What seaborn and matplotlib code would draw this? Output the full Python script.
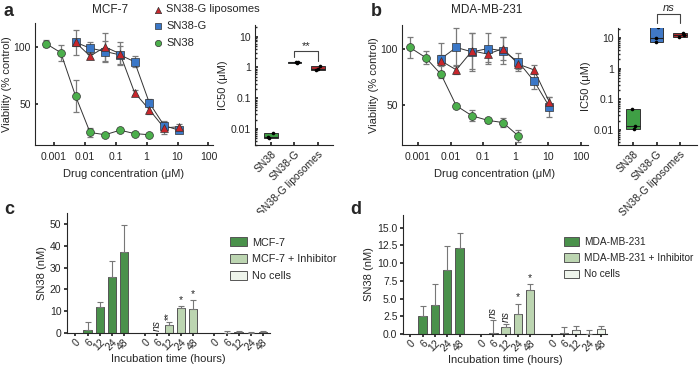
import numpy as np
import pandas as pd
import seaborn as sns
import matplotlib.pyplot as plt
from matplotlib.ticker import NullLocator

sns.set_theme(style="ticks")
plt.rcParams['font.family'] = ['Liberation Sans', 'DejaVu Sans']
plt.rcParams['font.size'] = 7
plt.rcParams['axes.linewidth'] = 0.8

# ---- panel a / b : viability curves ----
conc_sn38 = [0.00056, 0.0017, 0.0051, 0.015, 0.046, 0.14, 0.41, 1.23]
conc_g = [0.0051, 0.015, 0.046, 0.14, 0.41, 1.23, 3.7, 11.1]

mcf_sn38 = [103, 95, 57, 25, 23, 27, 24, 23]
mcf_sn38_err = [3, 7, 14, 4, 1, 2, 1, 1]
mcf_g = [104, 99, 96, 93, 87, 51, 31, 27]
mcf_g_err = [3, 5, 9, 8, 5, 3, 4, 2]
mcf_lip = [104, 92, 100, 94, 60, 45, 29, 30]
mcf_lip_err = [11, 3, 12, 10, 2, 4, 5, 2]

mda_sn38 = [101, 92, 77, 49, 40, 36, 34, 22]
mda_sn38_err = [9, 6, 3, 2, 5, 2, 4, 5]
mda_g = [91, 101, 97, 100, 98, 88, 71, 48]
mda_g_err = [14, 17, 17, 14, 12, 8, 7, 9]
mda_lip = [89, 81, 98, 95, 100, 86, 81, 52]
mda_lip_err = [5, 4, 16, 7, 10, 4, 4, 5]

# ---- IC50 (uM) ----
ic50_cats = ['SN38', 'SN38-G', 'SN38-G liposomes']
mcf_ic50_sn38 = [0.0075, 0.0055, 0.005]
mcf_ic50_g = [1.4, 1.5, 1.52]
mcf_ic50_lip = [1.1, 0.92, 0.8]
mda_ic50_sn38 = [0.048, 0.013, 0.011]
mda_ic50_g = [22, 10, 7.5]
mda_ic50_lip = [14, 12, 10.5]

# ---- panel c / d : SN38 release ----
times = ['0', '6', '12', '24', '48']
c_groups = ['MCF-7', 'MCF-7 + Inhibitor', 'No cells']
c_mean = [[0, 1.5, 11.8, 25.7, 37.2], [0, 0, 3.5, 11.5, 11.2], [0, 0.1, 0.4, 0.1, 0.5]]
c_err = [[0, 3.5, 2.2, 7.3, 12.5], [0, 0, 1.7, 0.8, 3.8], [0, 0.7, 0.4, 0.3, 0.4]]
d_groups = ['MDA-MB-231', 'MDA-MB-231 + Inhibitor', 'No cells']
d_mean = [[0, 2.5, 4.1, 9.0, 12.1], [0, 0.1, 1.0, 2.8, 6.2], [0, 0.1, 0.6, 0.0, 0.7]]
d_err = [[0, 1.4, 3.0, 3.4, 2.1], [0, 1.9, 0.4, 1.5, 0.8], [0, 0.9, 0.6, 0.6, 0.5]]

RED, BLUE, GREEN = '#c8262c', '#3a77c7', '#4caf4c'
BOX_COLORS = ['#3f9f45', '#4078c6', '#b02a2e']
BAR_COLORS = ['#3e9d40', '#b9dbab', '#eef6e9']
GAP = 5.75

W, H = 700, 369
fig = plt.figure(figsize=(W / 100, H / 100), dpi=100)


def frac(l, t, r, b):
    return [l / W, 1 - b / H, (r - l) / W, (b - t) / H]


def viability(ax, sets):
    for name, conc, mean, err, marker, color in sets:
        ax.errorbar(conc, mean, yerr=err, fmt='none', ecolor='#7a7a7a', elinewidth=0.9,
                    capsize=2.5, capthick=0.9, zorder=1)
        sns.lineplot(x=conc, y=mean, color='#333333', lw=0.7, ax=ax, zorder=2)
        sns.scatterplot(x=conc, y=mean, marker=marker, color=color, edgecolor='#333333',
                        s=32, linewidth=0.5, ax=ax, zorder=3, label=name)
    ax.set_xscale('log')
    ax.set_xlim(2.5e-4, 140)
    ax.set_ylim(14, 121)
    ax.set_xticks([1e-3, 1e-2, 0.1, 1, 10, 100])
    ax.set_xticklabels(['0.001', '0.01', '0.1', '1', '10', '100'])
    ax.xaxis.set_minor_locator(NullLocator())
    ax.set_yticks([50, 100])
    ax.set_xlabel('Drug concentration (\u03bcM)', fontsize=8, labelpad=5)
    ax.set_ylabel('Viability (% control)', fontsize=8, labelpad=1)
    ax.tick_params(direction='in', length=2, labelsize=7.5, pad=3)
    ax.tick_params(axis='x', pad=5)
    sns.despine(ax=ax)


def ic50(ax, groups, ylim):
    stats = [dict(med=np.median(v), q1=min(v), q3=max(v), whislo=min(v), whishi=max(v),
                  fliers=[]) for v in groups]
    bp = ax.bxp(stats, positions=[0, 1, 2], widths=0.58, showcaps=False, patch_artist=True,
                medianprops=dict(color='#222222', lw=0.8),
                whiskerprops=dict(lw=0), boxprops=dict(lw=0.7, edgecolor='#333333'))
    for patch, c in zip(bp['boxes'], BOX_COLORS):
        patch.set_facecolor(c)
    df = pd.DataFrame({'cat': np.repeat([0, 1, 2], 3), 'val': np.concatenate(groups)})
    ax.set_yscale('log')
    sns.stripplot(data=df, x='cat', y='val', native_scale=True, color='black', size=2.6,
                  jitter=0.15, ax=ax, zorder=4)
    ax.set_ylim(*ylim)
    ax.set_xlim(-0.68, 2.65)
    ax.set_xticks([0, 1, 2])
    ax.set_xticklabels(ic50_cats, rotation=45, ha='right', rotation_mode='anchor', fontsize=7.5)
    ax.set_yticks([0.01, 0.1, 1, 10])
    ax.set_yticklabels(['0.01', '0.1', '1', '10'])
    ax.set_xlabel('')
    ax.set_ylabel('IC50 (\u03bcM)', fontsize=8, labelpad=2)
    ax.tick_params(direction='in', length=2, labelsize=7.5, pad=3)
    ax.tick_params(which='minor', direction='in', length=1.2)
    sns.despine(ax=ax)


def release(ax, groups, means, errs, ylim, yticks, fmt, leg_xy, leg_size):
    rows = []
    for g, (lab, m, e) in enumerate(zip(groups, means, errs)):
        for i, (t, mv, ev) in enumerate(zip(times, m, e)):
            rows.append(dict(pos=g * GAP + i, val=mv, err=ev, group=lab, time=t))
    df = pd.DataFrame(rows)
    sns.barplot(data=df, x='pos', y='val', hue='group', palette=BAR_COLORS, native_scale=True,
                dodge=False, width=0.68, edgecolor='#555555', linewidth=0.7, errorbar=None, ax=ax)
    e = df[df.err > 0]
    ax.errorbar(e.pos, e.val, yerr=[np.zeros(len(e)), e.err], fmt='none', ecolor='#777777',
                elinewidth=0.8, capsize=2.2, capthick=0.8, zorder=3)
    ax.set_xlim(-0.7, 16.1)
    ax.set_ylim(*ylim)
    ax.set_xticks(df.pos)
    ax.set_xticklabels(df.time, rotation=45, ha='right', rotation_mode='anchor', fontsize=6.8)
    ax.set_yticks(yticks)
    ax.set_yticklabels([fmt.format(v) for v in yticks])
    ax.set_xlabel('Incubation time (hours)', fontsize=8, labelpad=1)
    ax.set_ylabel('SN38 (nM)', fontsize=8, labelpad=2)
    ax.tick_params(direction='out', length=2, labelsize=7.5, pad=2)
    ax.tick_params(axis='x', pad=1)
    sns.despine(ax=ax)
    sns.move_legend(ax, loc='upper left', bbox_to_anchor=leg_xy, bbox_transform=fig.transFigure,
                    frameon=False, title=None, fontsize=leg_size, handlelength=1.5,
                    handleheight=0.9, labelspacing=0.6, handletextpad=0.5, borderaxespad=0)
    return df


# panel a
ax_a = fig.add_axes(frac(35, 23, 213, 145))
viability(ax_a, [('SN38', conc_sn38, mcf_sn38, mcf_sn38_err, 'o', GREEN),
                 ('SN38-G', conc_g, mcf_g, mcf_g_err, 's', BLUE),
                 ('SN38-G liposomes', conc_g, mcf_lip, mcf_lip_err, '^', RED)])
h, l = ax_a.get_legend_handles_labels()
ax_a.legend(h[::-1], l[::-1], loc='upper left', bbox_to_anchor=(146 / W, 1 - 0 / H),
            bbox_transform=fig.transFigure, frameon=False, fontsize=8, handletextpad=0.0,
            handlelength=1.4, labelspacing=0.6, markerscale=0.8, borderaxespad=0)
fig.text(110 / W, 1 - 10 / H, 'MCF-7', ha='center', va='center', fontsize=8.5)

ax_a2 = fig.add_axes(frac(255, 25, 333, 145))
ic50(ax_a2, [mcf_ic50_sn38, mcf_ic50_g, mcf_ic50_lip], (0.003, 24))
ax_a2.plot([1, 1, 2, 2], [2.2, 3.4, 3.4, 1.6], color='#444444', lw=0.8)
ax_a2.text(1.5, 5.0, '**', ha='center', va='center', fontsize=8)

# panel b
ax_b = fig.add_axes(frac(402, 25, 588, 145))
viability(ax_b, [('SN38', conc_sn38, mda_sn38, mda_sn38_err, 'o', GREEN),
                 ('SN38-G', conc_g, mda_g, mda_g_err, 's', BLUE),
                 ('SN38-G liposomes', conc_g, mda_lip, mda_lip_err, '^', RED)])
ax_b.set_xlim(3.2e-4, 170)
ax_b.get_legend().remove()
fig.text(487 / W, 1 - 10 / H, 'MDA-MB-231', ha='center', va='center', fontsize=8.5)

ax_b2 = fig.add_axes(frac(618, 28, 697, 145))
ic50(ax_b2, [mda_ic50_sn38, mda_ic50_g, mda_ic50_lip], (0.0032, 21))
ax_b2.set_xlim(-0.64, 2.72)
ax_b2.plot([1, 1, 2, 2], [31, 60, 60, 31], color='#444444', lw=0.8, clip_on=False)
ax_b2.text(1.5, 95, 'ns', ha='center', va='center', fontsize=8, style='italic')

# panel c
ax_c = fig.add_axes(frac(67, 213, 270, 333))
release(ax_c, c_groups, c_mean, c_err, (0, 55), [0, 10, 20, 30, 40, 50], '{:.0f}',
        (226 / W, 1 - 233 / H), 7.8)
ax_c.text(GAP + 1, 0.8, 'ns', rotation=90, ha='center', va='bottom', style='italic', fontsize=7.5)
ax_c.text(GAP + 2, 5.8, '**', rotation=90, ha='center', va='bottom', fontsize=7)
ax_c.text(GAP + 3, 12.8, '*', ha='center', va='bottom', fontsize=7.5)
ax_c.text(GAP + 4, 15.6, '*', ha='center', va='bottom', fontsize=7.5)

# panel d
ax_d = fig.add_axes(frac(403, 215, 607, 334))
release(ax_d, d_groups, d_mean, d_err, (0, 16.8), [0, 2.5, 5, 7.5, 10, 12.5, 15], '{:.1f}',
        (560 / W, 1 - 233 / H), 7.3)
ax_d.set_xlim(-0.6, 16.0)
ax_d.text(GAP + 1, 2.3, 'ns', rotation=90, ha='center', va='bottom', style='italic', fontsize=7.5)
ax_d.text(GAP + 2, 1.7, 'ns', rotation=90, ha='center', va='bottom', style='italic', fontsize=7.5)
ax_d.text(GAP + 3, 4.5, '*', ha='center', va='bottom', fontsize=7.5)
ax_d.text(GAP + 4, 7.2, '*', ha='center', va='bottom', fontsize=7.5)

for lab, x, y in [('a', 4, 12), ('b', 371, 12), ('c', 4, 210), ('d', 350, 210)]:
    fig.text(x / W, 1 - y / H, lab, fontsize=13, fontweight='bold', va='center', ha='left')

fig.savefig('out.png', dpi=100)
